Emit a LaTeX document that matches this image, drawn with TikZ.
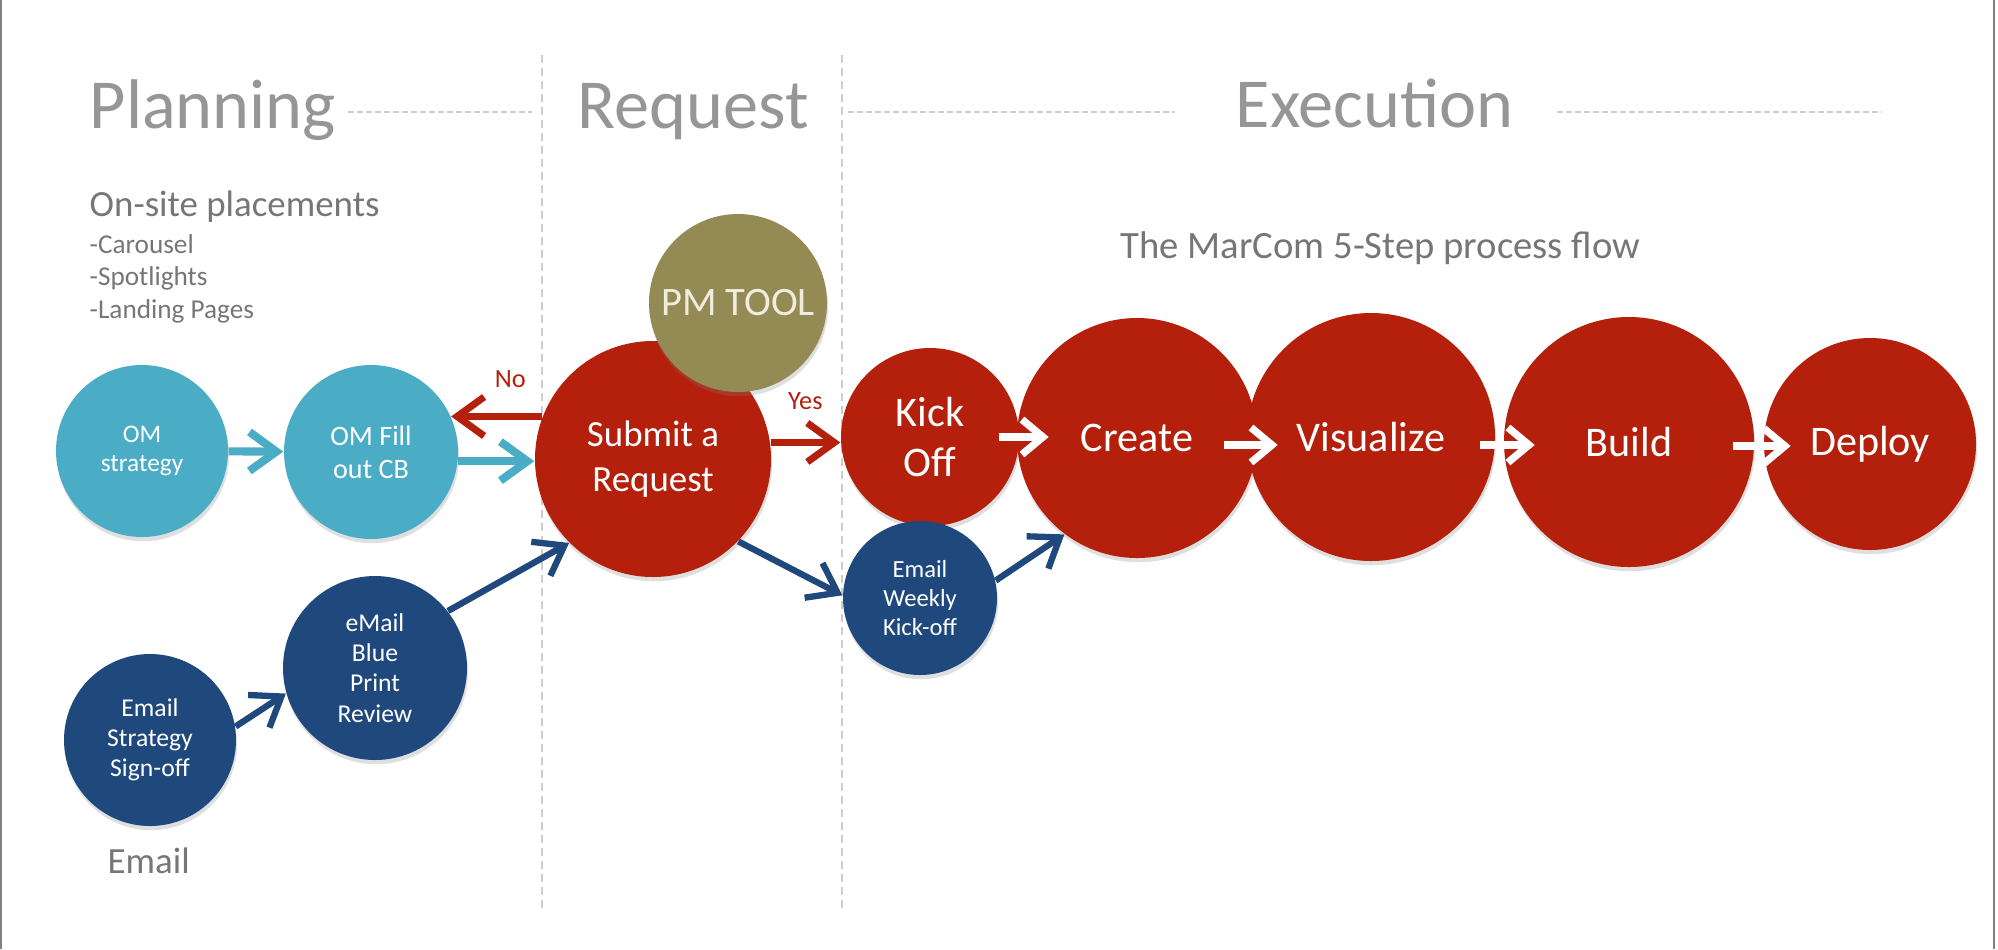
\documentclass[tikz,border=0pt]{standalone}
\usepackage{fontspec}
\setmainfont{Carlito}
\usetikzlibrary{arrows.meta, shadows}

\definecolor{mcred}{RGB}{180,32,12}
\definecolor{mccyan}{RGB}{75,172,198}
\definecolor{mcblue}{RGB}{31,73,125}
\definecolor{mcolive}{RGB}{148,138,84}
\definecolor{mcgray}{RGB}{150,150,150}
\definecolor{subgray}{RGB}{118,118,118}
\definecolor{guidegray}{RGB}{205,205,205}
\definecolor{pmtext}{RGB}{240,236,222}

\tikzset{
  ball/.style={circle, inner sep=0pt, text=white, align=center,
    drop shadow={opacity=0.25, shadow xshift=0.3pt, shadow yshift=-1.2pt}},
  cyanball/.style={ball, fill=mccyan},
  redball/.style={ball, fill=mcred},
  blueball/.style={ball, fill=mcblue},
  oliveball/.style={ball, fill=mcolive, text=pmtext},
  stepfont/.style={font=\fontsize{12}{14.2}\selectfont},
  title/.style={font=\fontsize{20}{24}\selectfont, text=mcgray, inner sep=0pt},
  subhead/.style={font=\fontsize{10.5}{12.5}\selectfont, text=subgray, inner sep=0pt},
  listtxt/.style={font=\fontsize{7.75}{9.2}\selectfont, text=subgray, inner sep=0pt},
  lbl/.style={font=\fontsize{7.5}{9}\selectfont, text=mcred, inner sep=0pt},
  hguide/.style={guidegray, line width=0.02cm, dash pattern=on 0.06cm off 0.03cm},
  vguide/.style={guidegray, line width=0.015cm, dash pattern=on 0.08cm off 0.05cm},
  flowtip/.style={-{Straight Barb[length=2.7mm, width=3.9mm]}},
  cyanflow/.style={flowtip, mccyan, line width=2.3pt},
  redflow/.style={flowtip, mcred, line width=2pt},
  blueflow/.style={flowtip, mcblue, line width=1.8pt},
  whiteflow/.style={-{Straight Barb[length=2.1mm, width=3.5mm]}, white, line width=2.1pt}
}

\begin{document}
\begin{tikzpicture}
    \useasboundingbox (0,0) rectangle (19.98,-9.49);

    % frame
    \draw[gray, line width=0.6pt] (0.01,0) -- (0.01,-9.49);
    \draw[gray, line width=0.6pt] (19.94,0) -- (19.94,-9.49);

    % phase guides
    \draw[vguide] (5.42,-0.55) -- (5.42,-9.09);
    \draw[vguide] (8.42,-0.55) -- (8.42,-9.09);
    \draw[hguide] (3.48,-1.12) -- (5.32,-1.12);
    \draw[hguide] (8.48,-1.12) -- (11.75,-1.12);
    \draw[hguide] (15.57,-1.12) -- (18.82,-1.12);

    \node[title, anchor=base west] (planning)  at (0.89,-1.28)  {Planning};
    \node[title, anchor=base west] (request)   at (5.77,-1.28)  {Request};
    \node[title, anchor=base west] (execution) at (12.35,-1.27) {Execution};

    \node[subhead, anchor=base west] (onsite) at (0.89,-2.16) {On-site placements};
    \foreach \txt [count=\i] in {Carousel, Spotlights, Landing Pages}
        \node[listtxt, anchor=base west] (item\i) at (0.89,{-2.53-0.325*(\i-1)}) {-\txt};
    \node[subhead, font=\fontsize{11}{13}\selectfont, anchor=base west] (marcom) at (11.20,-2.58) {The MarCom 5-Step process flow};
    \node[subhead, anchor=base west] (emaillbl) at (1.07,-8.73) {Email};

    % stages
    \node[cyanball, minimum size=1.72cm, font=\fontsize{7.2}{8.5}\selectfont] (omstrat) at (1.42,-4.51) {OM\\strategy};
    \node[cyanball, minimum size=1.74cm, font=\fontsize{8}{9.4}\selectfont]   (omfill)  at (3.71,-4.52) {OM Fill\\out CB};
    \node[redball, minimum size=2.36cm, font=\fontsize{10.5}{13}\selectfont]  (submit)  at (6.53,-4.59) {Submit a\\Request};
    \node[oliveball, minimum size=1.78cm, font=\fontsize{11.5}{14}\selectfont] (pmtool) at (7.38,-3.03) {PM TOOL};

    \node[redball, minimum size=1.78cm, stepfont] (kick)   at (9.30,-4.37)  {Kick\\Off};
    \node[redball, minimum size=2.40cm, stepfont] (create) at (11.37,-4.38) {Create};
    \node[redball, minimum size=2.48cm, stepfont] (visual) at (13.71,-4.37) {Visualize};
    \node[redball, minimum size=2.50cm, stepfont] (build)  at (16.29,-4.42) {Build};
    \node[redball, minimum size=2.12cm, stepfont] (deploy) at (18.70,-4.44) {Deploy};

    \node[blueball, minimum size=1.54cm, font=\fontsize{7}{8.2}\selectfont]   (weekly)    at (9.20,-5.98) {Email\\Weekly\\Kick-off};
    \node[blueball, minimum size=1.72cm, font=\fontsize{7.3}{8.5}\selectfont] (signoff)   at (1.50,-7.40) {Email\\Strategy\\Sign-off};
    \node[blueball, minimum size=1.84cm, font=\fontsize{7.3}{8.6}\selectfont] (blueprint) at (3.75,-6.68) {eMail\\Blue\\Print\\Review};

    % connectors
    \draw[cyanflow] (omstrat) -- (omfill);
    \draw[cyanflow] (omfill.-6) -- (omfill.-6 -| submit.west);
    \draw[redflow] (submit.159) -- (submit.159 -| omfill.24)
        node[lbl, pos=0.35, anchor=base, yshift=2.9mm] (no) {No};
    \draw[redflow] (submit.8) -- (submit.8 -| kick.west)
        node[lbl, pos=0.5, anchor=base, yshift=3.3mm] (yes) {Yes};
    \draw[blueflow] (submit.-44) -- (weekly.178);
    \draw[blueflow] (weekly.13) -- (create.233);
    \draw[blueflow] (signoff.9) -- (blueprint.196);
    \draw[blueflow] (blueprint.38) -- (submit.225);

    % 5-step flow
    \draw[whiteflow] ([xshift=-2.1mm]kick.east) -- ([xshift=2.9mm]kick.east);
    \draw[whiteflow] ([xshift=-3.4mm, yshift=-0.7mm]create.east) -- ([xshift=2mm, yshift=-0.7mm]create.east);
    \draw[whiteflow] ([xshift=-1.6mm, yshift=-0.8mm]visual.east) -- ([xshift=3.9mm, yshift=-0.8mm]visual.east);
    \draw[whiteflow] ([xshift=-2.2mm, yshift=-0.4mm]build.east) -- ([xshift=3.6mm, yshift=-0.4mm]build.east);
\end{tikzpicture}
\end{document}
